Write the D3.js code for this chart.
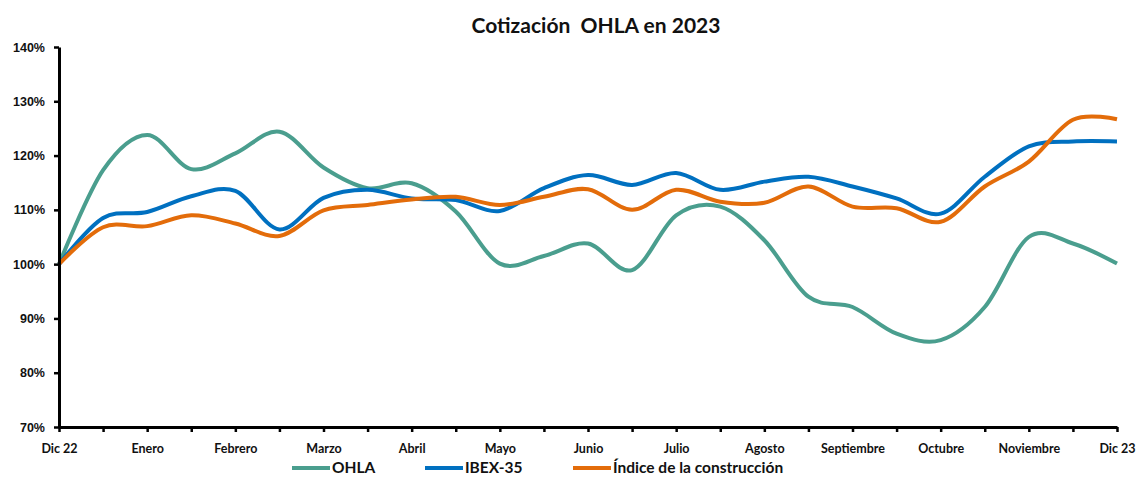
<!DOCTYPE html>
<html>
<head>
<meta charset="utf-8">
<script src="https://cdn.jsdelivr.net/npm/d3@7"></script>
<style>
  body { margin: 0; background: #fff; }
  svg { display: block; }
</style>
</head>
<body>
<div id="chart"></div>
<script>
// half-month points, Dic 22 .. Dic 23 (25 points)
const monthLabels = ['Dic 22','Enero','Febrero','Marzo','Abril','Mayo','Junio','Julio','Agosto','Septiembre','Octubre','Noviembre','Dic 23'];
const ohla = [100, 117.3, 123.8, 117.5, 120.4, 124.4, 117.8, 114.0, 114.9, 109.7, 100.1, 101.5, 103.8, 98.9, 109.0, 110.6, 104.4, 94.0, 92.1, 87.2, 86.0, 92.1, 105.0, 103.8, 100.1];
const ibex = [100, 108.5, 109.6, 112.5, 113.5, 106.4, 112.2, 113.7, 112.1, 111.8, 109.8, 114.0, 116.4, 114.6, 116.8, 113.7, 115.2, 116.1, 114.3, 112.1, 109.3, 116.1, 121.7, 122.6, 122.6];
const construccion = [100, 106.8, 107.0, 109.0, 107.5, 105.2, 109.9, 110.9, 111.9, 112.4, 110.9, 112.4, 113.8, 110.0, 113.7, 111.5, 111.3, 114.3, 110.6, 110.3, 107.8, 114.3, 118.9, 126.6, 126.7];
const yTicks = [70, 80, 90, 100, 110, 120, 130, 140];

const series = [
  { name: 'OHLA', values: ohla, color: '#4A9E8E' },
  { name: 'IBEX-35', values: ibex, color: '#0070C0' },
  { name: 'Índice de la construcción', values: construccion, color: '#E36C0A' }
];

const width = 1137, height = 477;
const margin = { top: 47, right: 20, bottom: 50, left: 59 };
const w = 1117 - margin.left, h = 427 - margin.top;

const svg = d3.select('#chart').append('svg').attr('width', width).attr('height', height);
const g = svg.append('g').attr('transform', `translate(${margin.left},${margin.top})`);

const n = ohla.length;
const x = d3.scaleLinear().domain([0, n - 1]).range([0, w]);
const y = d3.scaleLinear().domain([70, 140]).range([h, 0]);

const line = d3.line()
  .x((d, i) => x(i))
  .y(d => y(d))
  .curve(d3.curveCatmullRom.alpha(0));

series.forEach(s => {
  g.append('path').datum(s.values)
    .attr('fill', 'none').attr('stroke', s.color)
    .attr('stroke-width', 4).attr('stroke-linejoin', 'round')
    .attr('d', line);
});

// x axis
const xAxis = g.append('g').attr('transform', `translate(0,${h})`)
  .call(d3.axisBottom(x).tickValues(d3.range(0, n)).tickSize(5).tickSizeOuter(0)
    .tickFormat(i => i % 2 ? '' : monthLabels[i / 2]));
xAxis.select('.domain').attr('stroke', '#000').attr('stroke-width', 3);
xAxis.selectAll('.tick line').attr('stroke', '#000').attr('stroke-width', 2.5);
xAxis.selectAll('.tick text').attr('dy', '1.4em')
  .style('font-family', 'Lato, "Open Sans", sans-serif').style('font-weight', 700).style('font-size', '12.5px').attr('fill', '#111');

// y axis
const yAxis = g.append('g')
  .call(d3.axisLeft(y).tickValues(yTicks).tickSize(5).tickSizeOuter(0).tickFormat(d => d + '%'));
yAxis.select('.domain').attr('stroke', '#000').attr('stroke-width', 3);
yAxis.selectAll('.tick line').attr('stroke', '#000').attr('stroke-width', 2.5);
yAxis.selectAll('.tick text').attr('x', -14)
  .style('font-family', '"Liberation Sans", Arial, sans-serif').style('font-weight', 700).style('font-size', '12.5px').attr('fill', '#111');

// title
svg.append('text').attr('x', 596).attr('y', 33).attr('text-anchor', 'middle')
  .style('font-family', 'Lato, "Open Sans", sans-serif').style('font-weight', 700).style('font-size', '21px')
  .style('white-space', 'pre')
  .attr('fill', '#111').text('Cotización  OHLA en 2023');

// legend
const legendX = [292, 425, 573];
series.forEach((s, i) => {
  const lg = svg.append('g').attr('transform', `translate(${legendX[i]},468)`);
  lg.append('line').attr('x1', 0).attr('x2', 38).attr('y1', 0).attr('y2', 0)
    .attr('stroke', s.color).attr('stroke-width', 4);
  lg.append('text').attr('x', 40).attr('y', 5)
    .style('font-family', 'Lato, "Open Sans", sans-serif').style('font-weight', 700).style('font-size', '15.5px')
    .attr('fill', '#111').text(s.name);
});
</script>
</body>
</html>
